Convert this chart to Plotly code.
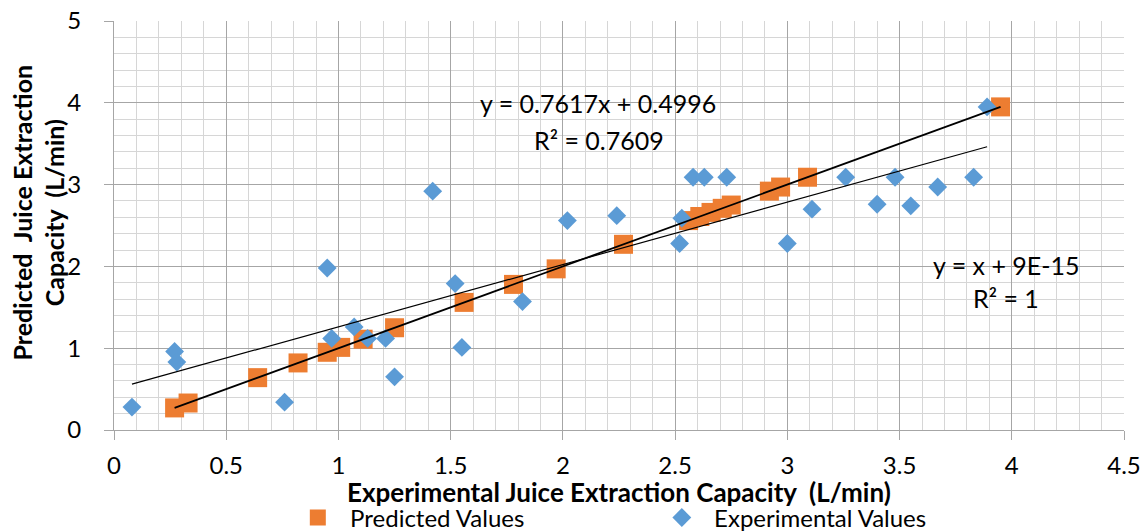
import plotly.graph_objects as go

# ---- data ----
pred_x = [0.27, 0.33, 0.64, 0.82, 0.95, 1.01, 1.11, 1.25, 1.56, 1.78, 1.97, 2.27,
          2.56, 2.61, 2.66, 2.71, 2.75, 2.92, 2.97, 3.09, 3.95]
pred_y = [0.27, 0.33, 0.64, 0.82, 0.95, 1.01, 1.11, 1.25, 1.56, 1.78, 1.97, 2.27,
          2.56, 2.61, 2.66, 2.71, 2.75, 2.92, 2.97, 3.09, 3.95]

exp_x = [0.08, 0.27, 0.28, 0.76, 0.95, 0.97, 1.07, 1.13, 1.21, 1.25, 1.42, 1.52,
         1.55, 1.82, 2.02, 2.24, 2.52, 2.53, 2.58, 2.63, 2.73, 3.00, 3.11, 3.26,
         3.40, 3.48, 3.55, 3.67, 3.83, 3.89]
exp_y = [0.28, 0.96, 0.83, 0.34, 1.98, 1.12, 1.26, 1.12, 1.12, 0.65, 2.92, 1.79,
         1.01, 1.57, 2.56, 2.62, 2.28, 2.59, 3.09, 3.09, 3.09, 2.28, 2.70, 3.09,
         2.76, 3.09, 2.74, 2.97, 3.09, 3.95]

# trendline parameters (from the equations shown)
exp_slope, exp_intercept = 0.7617, 0.4996
pred_slope, pred_intercept = 1.0, 9e-15

eq_exp = ["y = 0.7617x + 0.4996", "R² = 0.7609"]
eq_pred = ["y = x + 9E-15", "R² = 1"]

x_title = "Experimental Juice Extraction Capacity\u00a0 (L/min)"
y_title = "Predicted\u00a0 Juice Extraction<br>Capacity\u00a0 (L/min)"

ORANGE = "#ED7D31"
BLUE = "#5B9BD5"
FONT = "Lato"

fig = go.Figure()

fig.add_trace(go.Scatter(
    x=pred_x, y=pred_y, mode="markers", name="\u00a0\u00a0Predicted Values",
    marker=dict(symbol="square", size=19, color=ORANGE, line=dict(width=0)),
))
fig.add_trace(go.Scatter(
    x=exp_x, y=exp_y, mode="markers", name="\u00a0\u00a0Experimental Values",
    marker=dict(symbol="diamond", size=14.5, color=BLUE, line=dict(width=0)),
))

# trendlines
ex0, ex1 = min(exp_x), max(exp_x)
fig.add_trace(go.Scatter(
    x=[ex0, ex1], y=[exp_slope * ex0 + exp_intercept, exp_slope * ex1 + exp_intercept],
    mode="lines", line=dict(color="black", width=1.2), showlegend=False, hoverinfo="skip",
))
px0, px1 = min(pred_x), max(pred_x)
fig.add_trace(go.Scatter(
    x=[px0, px1], y=[pred_slope * px0 + pred_intercept, pred_slope * px1 + pred_intercept],
    mode="lines", line=dict(color="black", width=1.8), showlegend=False, hoverinfo="skip",
))

tick_font = dict(family=FONT, size=24, color="black")
eq_font = dict(family=FONT, size=25, color="black")

annotations = [
    dict(x=2.155, y=3.995, text=eq_exp[0]),
    dict(x=2.16, y=3.545, text=eq_exp[1]),
    dict(x=3.975, y=2.016, text=eq_pred[0]),
    dict(x=3.975, y=1.612, text=eq_pred[1]),
]
for a in annotations:
    a.update(xref="x", yref="y", showarrow=False, font=eq_font,
             xanchor="center", yanchor="middle")

annotations.append(dict(
    text=x_title, xref="paper", yref="paper", x=0.5, y=0, yshift=-62,
    xanchor="center", yanchor="middle", showarrow=False,
    font=dict(family=FONT, size=26, color="black", weight="bold"),
))
annotations.append(dict(
    text=y_title, xref="paper", yref="paper", x=0, y=0.5, xshift=-76, yshift=13,
    xanchor="center", yanchor="middle", showarrow=False, textangle=-90,
    font=dict(family=FONT, size=25, color="black", weight="bold"),
))

axis_common = dict(
    showgrid=True, gridcolor="#a6a6a6", gridwidth=1,
    zeroline=False, showline=True, linecolor="#a6a6a6", linewidth=1,
    ticks="outside", ticklen=9, tickcolor="#a6a6a6", tickwidth=1,
    tickfont=tick_font,
)

fig.update_layout(
    width=1146, height=532,
    margin=dict(l=114, r=22, t=21, b=102, autoexpand=False),
    paper_bgcolor="white", plot_bgcolor="white",
    xaxis=dict(range=[0, 4.5], dtick=0.5, tick0=0, ticklabelstandoff=5,
               minor=dict(dtick=0.1, showgrid=True, gridcolor="#d6d6d6", gridwidth=1),
               **axis_common),
    yaxis=dict(range=[0, 5], dtick=1, tick0=0, ticklabelstandoff=18,
               minor=dict(dtick=0.2, showgrid=True, gridcolor="#d6d6d6", gridwidth=1),
               **axis_common),
    legend=dict(orientation="h", x=0.182, xanchor="left", y=-0.2150, yanchor="middle",
                font=dict(family=FONT, size=24, color="black"),
                entrywidth=319, entrywidthmode="pixels",
                bgcolor="rgba(0,0,0,0)"),
    annotations=annotations,
    showlegend=True,
)

fig.write_html("out.html")
